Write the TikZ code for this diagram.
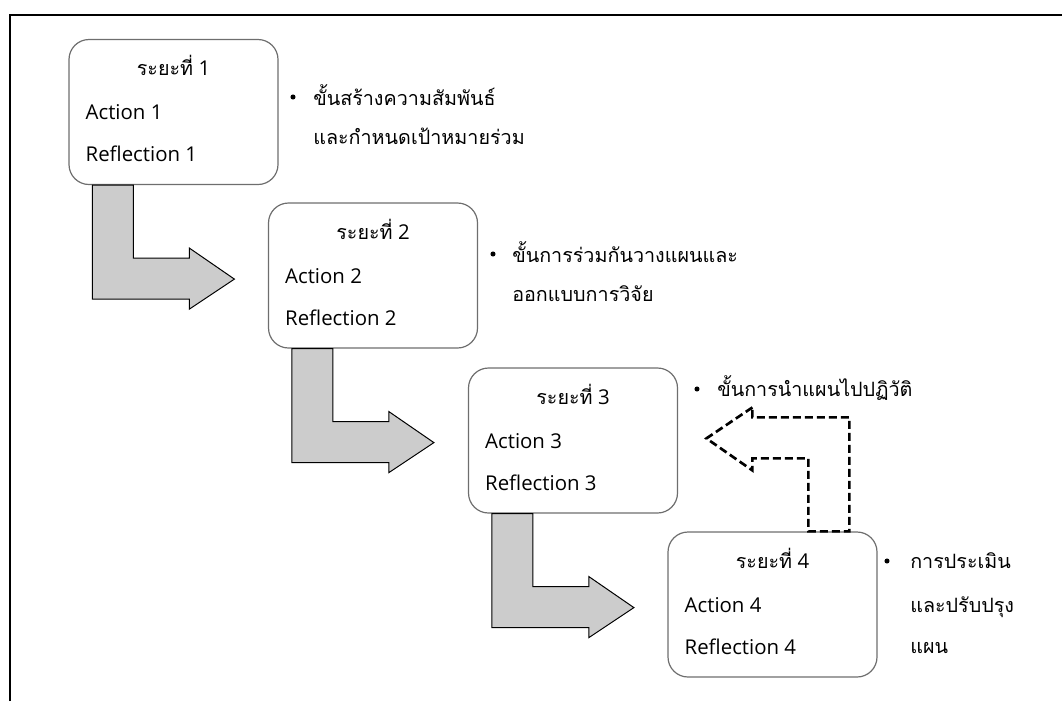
\documentclass[tikz,border=0pt]{standalone}
\usepackage{fontspec}
\setmainfont{Open Sans}
\newfontfamily\thaifont[Script=Thai]{Loma}
\usetikzlibrary{calc}
\definecolor{boxgray}{RGB}{110,110,110}
\definecolor{arrfill}{RGB}{204,204,204}
\newcommand\thx[1]{{\thaifont\fontsize{14.8}{18}\selectfont #1}}
\tikzset{
  stagebox/.style={draw=boxgray, line width=0.9pt, rounded corners=15pt, fill=white,
    minimum width=156.75pt, minimum height=108.75pt, inner sep=0pt},
  txt/.style={font=\fontsize{15.3}{18}\selectfont, inner sep=0pt, anchor=base west},
  ttl/.style={font=\fontsize{15.3}{18}\selectfont, inner sep=0pt, anchor=base},
  blockarr/.style={draw=black, line width=0.75pt, fill=arrfill, line join=miter},
  dasharr/.style={draw=black, line width=2pt, dash pattern=on 6pt off 3pt},
  dot/.style={circle, fill=black, inner sep=0pt, minimum size=3.8pt},
  frame/.style={line width=2.1pt, black}
}
\newcommand\blockarrow[1]{%
  \draw[blockarr] ($(#1.south west)+(24,0)$) -- ($(#1.south west)+(24,114)$)
    -- ($(#1.south west)+(121,114)$) -- ($(#1.south west)+(121,124)$)
    -- ($(#1.south west)+(166,94)$) -- ($(#1.south west)+(121,63)$)
    -- ($(#1.south west)+(121,73)$) -- ($(#1.south west)+(65,73)$)
    -- ($(#1.south west)+(65,0)$) -- cycle;}
\newcommand\stagetext[2]{%
  \node[ttl] (#1t) at ($(#1.north)+(0,37)$) {\thx{ระยะที่} #2};
  \node[txt] (#1a) at ($(#1.north west)+(17,81)$) {Action #2};
  \node[txt] (#1r) at ($(#1.north west)+(17,123)$) {Reflection #2};}
\begin{document}
\begin{tikzpicture}[x=0.75pt, y=-0.75pt]
\useasboundingbox (0,0) rectangle (1062,701);
% frame (only top and left edges visible)
\coordinate (fa) at (10,701);
\coordinate (fb) at (10,15);
\coordinate (fc) at (1062,15);
\draw[frame] (fa) -- (fb) -- (fc);
% stage boxes
\node[stagebox] (b1) at (173.5,112) {};
\node[stagebox] (b2) at (373,275.5) {};
\node[stagebox] (b3) at (573,440.5) {};
\node[stagebox] (b4) at (772.5,604.5) {};
\stagetext{b1}{1}
\stagetext{b2}{2}
\stagetext{b3}{3}
\stagetext{b4}{4}
% block arrows
\blockarrow{b1}
\blockarrow{b2}
\blockarrow{b3}
% dashed feedback arrow from stage 4 toward stage 3
\draw[dasharr] ($(b4.north west)+(85,-124)$) -- ($(b4.north west)+(39,-93)$)
  -- ($(b4.north west)+(85,-61)$) -- ($(b4.north west)+(85,-73)$)
  -- ($(b4.north west)+(141,-73)$) -- ($(b4.north west)+(141,0)$)
  -- ($(b4.north west)+(182,0)$) -- ($(b4.north west)+(182,-114)$)
  -- ($(b4.north west)+(85,-114)$) -- cycle;
% bullet notes
\node[dot] (d1) at (293,97) {};
\node[txt] (n1a) at (313,105) {\thx{ขั้นสร้างความสัมพันธ์}};
\node[txt] (n1b) at (313,144) {\thx{และกำหนดเป้าหมายร่วม}};
\node[dot] (d2) at (493,254) {};
\node[txt] (n2a) at (512,262) {\thx{ขั้นการร่วมกันวางแผนและ}};
\node[txt] (n2b) at (512,301) {\thx{ออกแบบการวิจัย}};
\node[dot] (d3) at (697,389) {};
\node[txt] (n3a) at (717,396) {\thx{ขั้นการนำแผนไปปฏิวัติ}};
\node[dot] (d4) at (887,561) {};
\node[txt] (n4a) at (910,568) {\thx{การประเมิน}};
\node[txt] (n4b) at (910,612) {\thx{และปรับปรุง}};
\node[txt] (n4c) at (910,653) {\thx{แผน}};
\end{tikzpicture}
\end{document}
